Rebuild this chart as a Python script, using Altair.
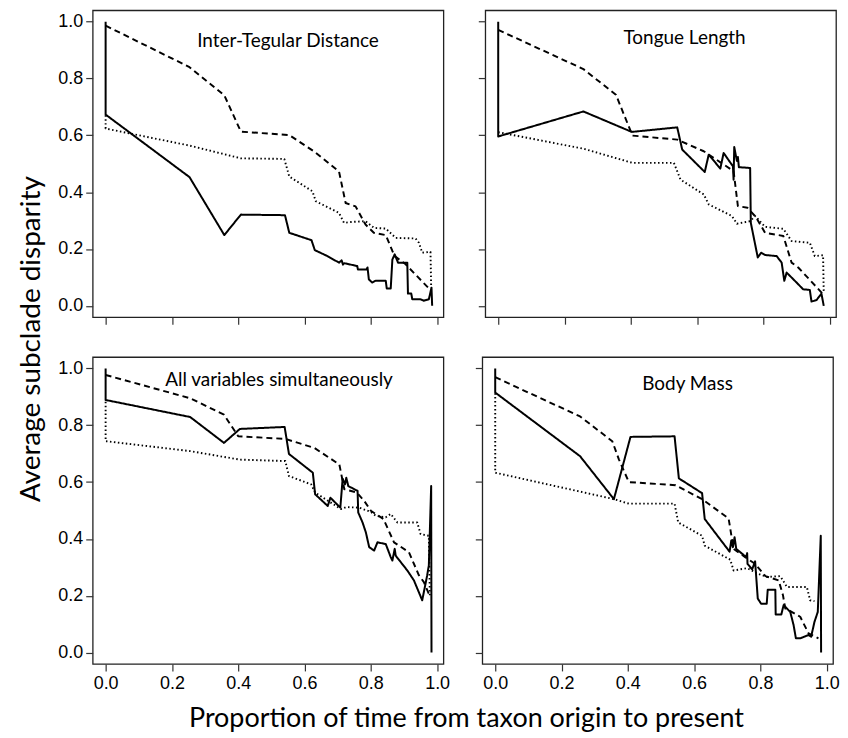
import altair as alt
import pandas as pd

# ---------------- data ----------------
SERIES = ["solid", "dashed", "dotted"]
TICKS = [0.0, 0.2, 0.4, 0.6, 0.8, 1.0]

titles = ["Inter-Tegular Distance", "Tongue Length",
          "All variables simultaneously", "Body Mass"]
y_title = "Average subclade disparity"
x_title = "Proportion of time from taxon origin to present"

# Panel 1: Inter-Tegular Distance
p1_solid_x = [0, 0, 0.253, 0.358, 0.408, 0.541, 0.554, 0.621, 0.631, 0.669, 0.704, 0.712, 0.716, 0.72, 0.759,
              0.761, 0.787, 0.79, 0.794, 0.804, 0.814, 0.845, 0.848, 0.86, 0.865, 0.872, 0.882, 0.91, 0.912,
              0.922, 0.925, 0.95, 0.96, 0.975, 0.983, 0.985]
p1_solid_y = [1.0, 0.673, 0.453, 0.249, 0.321, 0.319, 0.257, 0.231, 0.196, 0.175, 0.152, 0.16, 0.145, 0.15, 0.14,
              0.128, 0.128, 0.135, 0.093, 0.082, 0.088, 0.088, 0.061, 0.061, 0.163, 0.181, 0.152, 0.152, 0.043,
              0.043, 0.023, 0.023, 0.018, 0.023, 0.064, 0.0]
p1_dash_x = [0, 0.253, 0.358, 0.408, 0.554, 0.629, 0.704, 0.724, 0.754, 0.784, 0.809, 0.845, 0.865, 0.872, 0.905, 0.982]
p1_dash_y = [0.986, 0.84, 0.741, 0.613, 0.601, 0.543, 0.473, 0.362, 0.35, 0.286, 0.257, 0.249, 0.193, 0.175, 0.146, 0.053]
p1_dot_x = [0, 0, 0.253, 0.408, 0.539, 0.554, 0.624, 0.634, 0.704, 0.719, 0.74, 0.784, 0.81, 0.845, 0.875, 0.935,
            0.945, 0.955, 0.98, 0.982]
p1_dot_y = [0.671, 0.624, 0.564, 0.519, 0.517, 0.455, 0.403, 0.368, 0.327, 0.292, 0.295, 0.298, 0.274, 0.272, 0.239,
            0.237, 0.222, 0.187, 0.19, 0.064]

# Panel 2: Tongue Length
p2_solid_x = [0, 0, 0.257, 0.403, 0.54, 0.555, 0.623, 0.635, 0.67, 0.68, 0.708, 0.71, 0.712, 0.72, 0.723, 0.726,
              0.76, 0.762, 0.783, 0.793, 0.805, 0.84, 0.855, 0.863, 0.87, 0.9, 0.92, 0.94, 0.945, 0.96, 0.975, 0.982]
p2_solid_y = [1.0, 0.596, 0.684, 0.612, 0.628, 0.55, 0.471, 0.532, 0.483, 0.538, 0.491, 0.444, 0.559, 0.51, 0.524,
              0.488, 0.485, 0.292, 0.17, 0.187, 0.179, 0.175, 0.152, 0.088, 0.117, 0.082, 0.058, 0.056, 0.015,
              0.02, 0.043, 0.0]
p2_dash_x = [0, 0.257, 0.355, 0.405, 0.54, 0.62, 0.71, 0.723, 0.752, 0.777, 0.805, 0.86, 0.885, 0.905, 0.98]
p2_dash_y = [0.971, 0.833, 0.743, 0.599, 0.585, 0.544, 0.474, 0.351, 0.345, 0.313, 0.257, 0.246, 0.152, 0.135, 0.041]
p2_dot_x = [0, 0.257, 0.405, 0.53, 0.55, 0.62, 0.635, 0.705, 0.72, 0.76, 0.775, 0.805, 0.86, 0.885, 0.94, 0.955,
            0.98, 0.982]
p2_dot_y = [0.611, 0.553, 0.503, 0.503, 0.444, 0.392, 0.357, 0.316, 0.289, 0.298, 0.316, 0.278, 0.271, 0.228,
            0.222, 0.175, 0.178, 0.047]

# Panel 3: All variables simultaneously
p3_solid_x = [0, 0, 0.255, 0.357, 0.405, 0.54, 0.553, 0.625, 0.632, 0.67, 0.678, 0.708, 0.715, 0.722, 0.726, 0.732,
              0.76, 0.762, 0.775, 0.785, 0.795, 0.81, 0.82, 0.845, 0.86, 0.865, 0.872, 0.875, 0.91, 0.93, 0.955,
              0.962, 0.97, 0.975, 0.982, 0.983]
p3_solid_y = [1.0, 0.889, 0.829, 0.738, 0.787, 0.794, 0.699, 0.633, 0.557, 0.516, 0.545, 0.51, 0.612, 0.592, 0.615,
              0.586, 0.569, 0.493, 0.458, 0.423, 0.371, 0.359, 0.388, 0.382, 0.336, 0.324, 0.365, 0.341, 0.289,
              0.254, 0.184, 0.225, 0.272, 0.307, 0.586, 0.0]
p3_dash_x = [0, 0.255, 0.357, 0.4, 0.542, 0.63, 0.705, 0.72, 0.758, 0.78, 0.8, 0.838, 0.87, 0.915, 0.945, 0.96, 0.975]
p3_dash_y = [0.977, 0.895, 0.837, 0.761, 0.752, 0.72, 0.662, 0.575, 0.563, 0.534, 0.499, 0.47, 0.388, 0.353, 0.272,
             0.248, 0.207]
p3_dot_x = [0, 0, 0.255, 0.405, 0.542, 0.553, 0.62, 0.632, 0.71, 0.725, 0.765, 0.8, 0.815, 0.845, 0.86, 0.88, 0.94,
            0.95, 0.975, 0.978]
p3_dot_y = [0.883, 0.744, 0.709, 0.679, 0.674, 0.621, 0.592, 0.563, 0.505, 0.512, 0.51, 0.495, 0.481, 0.476, 0.488,
            0.458, 0.458, 0.417, 0.411, 0.202]

# Panel 4: Body Mass
p4_solid_x = [0, 0, 0.256, 0.358, 0.408, 0.541, 0.554, 0.624, 0.632, 0.707, 0.712, 0.717, 0.722, 0.727, 0.757, 0.76,
              0.761, 0.775, 0.784, 0.792, 0.802, 0.819, 0.822, 0.845, 0.846, 0.863, 0.87, 0.89, 0.9, 0.907, 0.92,
              0.945, 0.953, 0.963, 0.973, 0.982, 0.983]
p4_solid_y = [1.0, 0.915, 0.691, 0.54, 0.759, 0.761, 0.613, 0.561, 0.47, 0.355, 0.394, 0.371, 0.406, 0.365, 0.336,
              0.35, 0.312, 0.293, 0.321, 0.19, 0.172, 0.172, 0.221, 0.221, 0.134, 0.134, 0.167, 0.143, 0.097, 0.05,
              0.05, 0.062, 0.056, 0.108, 0.143, 0.411, 0.0]
p4_dash_x = [0, 0.256, 0.353, 0.373, 0.403, 0.544, 0.624, 0.704, 0.719, 0.754, 0.784, 0.815, 0.855, 0.868, 0.875,
             0.89, 0.92, 0.945, 0.975]
p4_dash_y = [0.969, 0.831, 0.744, 0.68, 0.6, 0.589, 0.54, 0.472, 0.365, 0.336, 0.312, 0.269, 0.254, 0.202, 0.155,
             0.146, 0.126, 0.068, 0.05]
p4_dot_x = [0, 0, 0.358, 0.403, 0.541, 0.552, 0.624, 0.632, 0.709, 0.719, 0.76, 0.794, 0.82, 0.86, 0.88, 0.94, 0.95,
            0.963]
p4_dot_y = [0.913, 0.633, 0.54, 0.524, 0.524, 0.458, 0.411, 0.376, 0.327, 0.289, 0.297, 0.277, 0.266, 0.269, 0.231,
            0.231, 0.184, 0.181]

panels = [
    [(p1_solid_x, p1_solid_y), (p1_dash_x, p1_dash_y), (p1_dot_x, p1_dot_y)],
    [(p2_solid_x, p2_solid_y), (p2_dash_x, p2_dash_y), (p2_dot_x, p2_dot_y)],
    [(p3_solid_x, p3_solid_y), (p3_dash_x, p3_dash_y), (p3_dot_x, p3_dot_y)],
    [(p4_solid_x, p4_solid_y), (p4_dash_x, p4_dash_y), (p4_dot_x, p4_dot_y)],
]

# ---------------- chart ----------------
PW, PH = 352, 308
title_pos = [(196, 31), (200, 28), (187, 23), (206, 27)]


def make_panel(idx, show_x_labels, show_y_labels):
    rows = []
    for s, (xs, ys) in zip(SERIES, panels[idx]):
        for i, (xv, yv) in enumerate(zip(xs, ys)):
            rows.append({"x": xv, "y": yv, "series": s, "order": i})
    df = pd.DataFrame(rows)

    x_axis = alt.Axis(values=TICKS, format=".1f", labels=show_x_labels, grid=False, domain=False,
                      tickSize=7, labelPadding=4, title=None)
    y_axis = alt.Axis(values=TICKS, format=".1f", labels=show_y_labels, grid=False, domain=False,
                      tickSize=7, labelPadding=3, title=None)

    lines = alt.Chart(df).mark_line(color="black", strokeJoin="round").encode(
        x=alt.X("x:Q", scale=alt.Scale(domain=[-0.039, 1.019], nice=False, zero=False), axis=x_axis),
        y=alt.Y("y:Q", scale=alt.Scale(domain=[-0.04, 1.04], nice=False, zero=False), axis=y_axis),
        strokeDash=alt.StrokeDash("series:N", scale=alt.Scale(domain=SERIES, range=[[1, 0], [6, 4], [1.5, 2.5]]),
                                  legend=None),
        strokeWidth=alt.StrokeWidth("series:N", scale=alt.Scale(domain=SERIES, range=[2.0, 1.9, 1.5]),
                                    legend=None),
        order="order:Q",
    )
    tx, ty = title_pos[idx]
    label = alt.Chart(pd.DataFrame({"t": [titles[idx]]})).mark_text(
        font="Lato", fontSize=19, color="black"
    ).encode(text="t:N", x=alt.value(tx), y=alt.value(ty))
    return alt.layer(lines, label).properties(width=PW, height=PH)


p1 = make_panel(0, False, True)
p2 = make_panel(1, False, False)
p3 = make_panel(2, True, True)
p4 = make_panel(3, True, False)

row1 = alt.hconcat(p1, p2, spacing=32)
row2 = alt.hconcat(p3, p4, spacing=23).properties(
    title=alt.TitleParams(x_title, orient="bottom", anchor="middle",
                          font="Lato", fontSize=27, fontWeight="normal", color="black", offset=13, dx=18)
)
grid = alt.vconcat(row1, row2, spacing=30)

ytitle = alt.Chart(pd.DataFrame({"t": [y_title]})).mark_text(
    font="Lato", fontSize=28, color="black", angle=270, align="center", baseline="middle"
).encode(text="t:N", x=alt.value(16), y=alt.value(330)).properties(
    width=32, height=640, view=alt.ViewBackground(stroke="transparent")
)

chart = alt.hconcat(ytitle, grid, spacing=8).properties(
    padding={"left": 7, "top": 0, "right": 0, "bottom": 0},
).configure_view(
    stroke="#222", strokeWidth=1.3
).configure_axis(
    labelFont="Liberation Sans", labelFontSize=18, labelColor="black",
    tickColor="#333", tickWidth=1.2
)

chart.save("out.html", embed_options={"renderer": "svg", "actions": False})
